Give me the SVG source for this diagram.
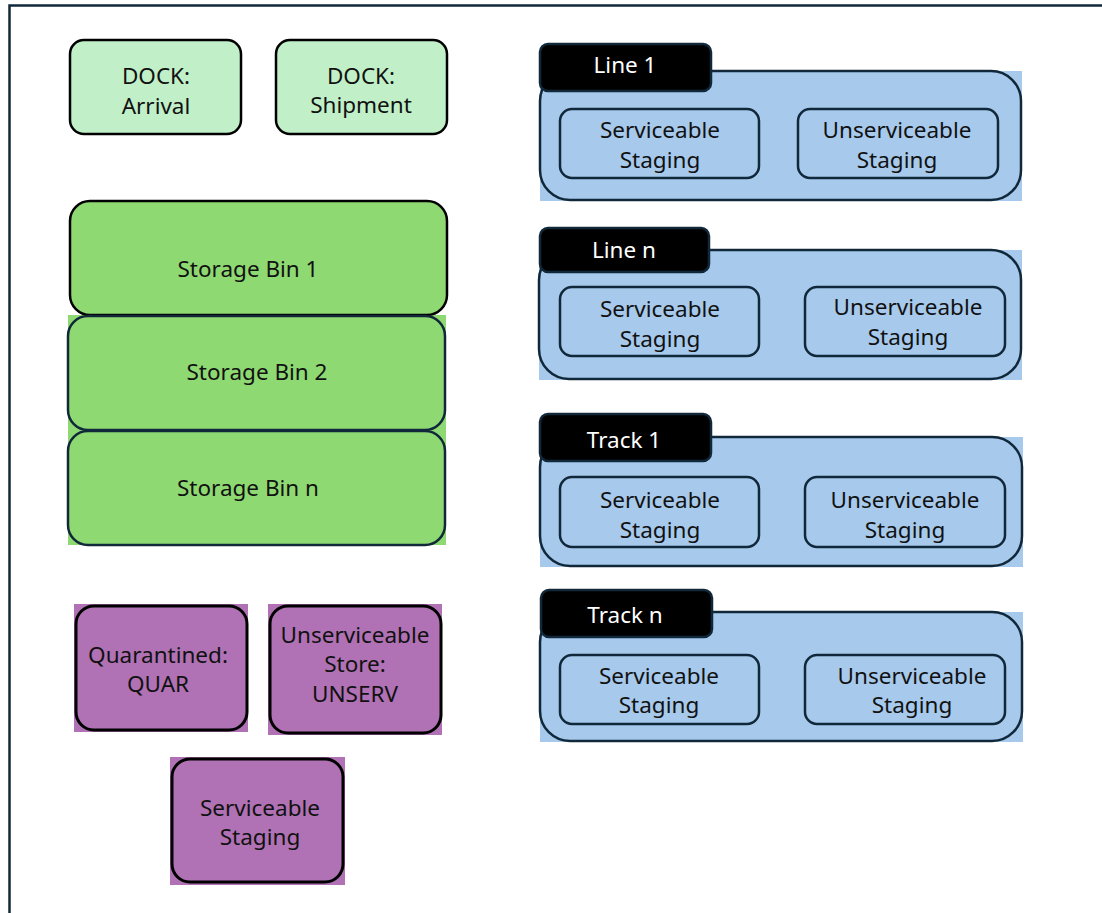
<svg xmlns="http://www.w3.org/2000/svg" width="1102" height="913" viewBox="0 0 1102 913">
<style>
text{font-family:"Noto Sans","Open Sans","Liberation Sans",sans-serif;font-size:22.5px;fill:#111;text-anchor:middle}
.tab text{fill:#fff}
.dock{fill:#c1f0c8;stroke:#000;stroke-width:2.5}
.bin{fill:#8fd973;stroke:#10283a;stroke-width:2.5}
.pur{fill:#b072b4;stroke:#000;stroke-width:3}
.pbg{fill:#b072b4}
.cont{fill:#a6c9ec;stroke:#10283a;stroke-width:2.5}
.cbg{fill:#a6c9ec}
.inner{fill:#a6c9ec;stroke:#10283a;stroke-width:2.5}
.tabr{fill:#000;stroke:#10283a;stroke-width:2.5}
</style>
<rect width="1102" height="913" fill="#fff"/>
<path d="M9.5 913 V5.5 H1102" fill="none" stroke="#10283a" stroke-width="2.5"/>
<g id="dock-arrival"><rect class="dock" x="70" y="40" width="171" height="94" rx="14"/><text x="156" y="84">DOCK:</text><text x="156" y="114">Arrival</text></g>
<g id="dock-shipment"><rect class="dock" x="276" y="40" width="171" height="94" rx="14"/><text x="361" y="84">DOCK:</text><text x="361" y="113">Shipment</text></g>
<rect x="68" y="315" width="378" height="230" fill="#8fd973"/>
<g id="bin1"><rect class="bin" x="70" y="201" width="377" height="114" rx="20" style="stroke:#000"/><text x="248" y="277">Storage Bin 1</text></g>
<g id="bin2"><rect class="bin" x="68" y="316" width="377" height="114" rx="20"/><text x="257" y="380">Storage Bin 2</text></g>
<g id="binn"><rect class="bin" x="68" y="431" width="377" height="114" rx="20"/><text x="248" y="496">Storage Bin n</text></g>
<g id="quar"><rect class="pbg" x="74" y="604" width="174" height="128"/><rect class="pur" x="76" y="606" width="171" height="124" rx="18"/><text x="158" y="663">Quarantined:</text><text x="158" y="692">QUAR</text></g>
<g id="unserv"><rect class="pbg" x="268" y="604" width="174" height="131"/><rect class="pur" x="270" y="606" width="171" height="127" rx="18"/><text x="355" y="643">Unserviceable</text><text x="355" y="672">Store:</text><text x="355" y="702">UNSERV</text></g>
<g id="serv-staging"><rect class="pbg" x="170" y="757" width="175" height="128"/><rect class="pur" x="172" y="759" width="171" height="123" rx="18"/><text x="260" y="816">Serviceable</text><text x="260" y="845">Staging</text></g>
<g id="line1">
<rect class="cbg" x="540" y="71" width="482" height="130"/>
<rect class="cont" x="540" y="71" width="481" height="129" rx="30"/>
<g class="tab"><rect class="tabr" x="540" y="44" width="171" height="47" rx="8"/><text x="625" y="73">Line 1</text></g>
<rect class="inner" x="560" y="109" width="199" height="69" rx="12"/><text x="660" y="138">Serviceable</text><text x="660" y="168">Staging</text>
<rect class="inner" x="798" y="109" width="200" height="69" rx="12"/><text x="897" y="138">Unserviceable</text><text x="897" y="168">Staging</text>
</g>
<g id="linen">
<rect class="cbg" x="539" y="250" width="483" height="130"/>
<rect class="cont" x="539" y="250" width="482" height="129" rx="30"/>
<g class="tab"><rect class="tabr" x="540" y="228" width="169" height="44" rx="8"/><text x="624" y="258">Line n</text></g>
<rect class="inner" x="560" y="287" width="199" height="69" rx="12"/><text x="660" y="317">Serviceable</text><text x="660" y="347">Staging</text>
<rect class="inner" x="805" y="287" width="200" height="69" rx="12"/><text x="908" y="315">Unserviceable</text><text x="908" y="345">Staging</text>
</g>
<g id="track1">
<rect class="cbg" x="540" y="437" width="483" height="130"/>
<rect class="cont" x="540" y="437" width="482" height="129" rx="30"/>
<g class="tab"><rect class="tabr" x="540" y="414" width="171" height="47" rx="8"/><text x="624" y="448">Track 1</text></g>
<rect class="inner" x="560" y="477" width="199" height="70" rx="12"/><text x="660" y="508">Serviceable</text><text x="660" y="538">Staging</text>
<rect class="inner" x="805" y="477" width="200" height="70" rx="12"/><text x="905" y="508">Unserviceable</text><text x="905" y="538">Staging</text>
</g>
<g id="trackn">
<rect class="cbg" x="540" y="612" width="483" height="130"/>
<rect class="cont" x="540" y="612" width="482" height="129" rx="30"/>
<g class="tab"><rect class="tabr" x="541" y="590" width="171" height="47" rx="8"/><text x="625" y="623">Track n</text></g>
<rect class="inner" x="560" y="655" width="199" height="69" rx="12"/><text x="659" y="684">Serviceable</text><text x="659" y="713">Staging</text>
<rect class="inner" x="805" y="655" width="200" height="69" rx="12"/><text x="912" y="684">Unserviceable</text><text x="912" y="713">Staging</text>
</g>
<g id="connectors"></g>
</svg>
